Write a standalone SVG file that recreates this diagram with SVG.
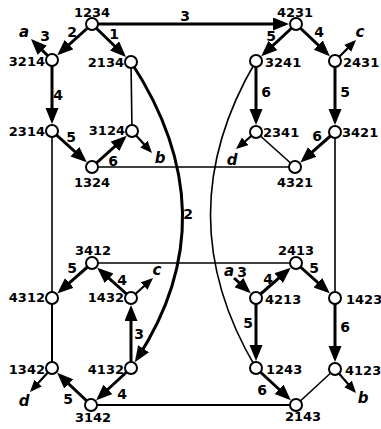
<svg xmlns="http://www.w3.org/2000/svg" width="381" height="429" viewBox="0 0 381 429">
<style>
.thick{stroke:#000;stroke-width:3;fill:none;marker-end:url(#ah)}
.stub{stroke:#000;stroke-width:2.2;fill:none;marker-end:url(#sh)}
.thin{stroke:#000;stroke-width:1.6;fill:none}
.mid{stroke:#000;stroke-width:2;fill:none}
.node circle{fill:#fff;stroke:#000;stroke-width:2}
.nl{font-family:"DejaVu Sans","Liberation Sans",sans-serif;font-weight:bold;font-size:13px;fill:#000}
.el{font-family:"DejaVu Sans","Liberation Sans",sans-serif;font-weight:bold;font-size:14px;fill:#000;text-anchor:middle}
.lt{font-family:"DejaVu Sans","Liberation Sans",sans-serif;font-weight:bold;font-style:italic;font-size:15px;fill:#000;text-anchor:middle}
.s{text-anchor:start}.e{text-anchor:end}.m{text-anchor:middle}
</style>
<defs>
<marker id="ah" markerUnits="userSpaceOnUse" markerWidth="17" markerHeight="14" refX="12" refY="6.5" orient="auto"><path d="M0,0 L16,6.5 L0,13 Z" fill="#000"/></marker>
<marker id="sh" markerUnits="userSpaceOnUse" markerWidth="13" markerHeight="11" refX="9" refY="5" orient="auto"><path d="M0,0 L12,5 L0,10 Z" fill="#000"/></marker>
</defs>
<g id="connectors">
<line class="thin" x1="131" y1="62" x2="132" y2="131"/>
<line class="thin" x1="92" y1="167" x2="295" y2="167"/>
<line class="thin" x1="256" y1="132" x2="295" y2="167"/>
<line class="thin" x1="52" y1="131" x2="52" y2="298"/>
<line class="thin" x1="335" y1="132" x2="335" y2="298"/>
<line class="thin" x1="92" y1="263" x2="296" y2="263"/>
<line class="mid" x1="52" y1="298" x2="52" y2="368"/>
<line class="mid" x1="91" y1="405" x2="296" y2="405"/>
<line class="thin" x1="335" y1="369" x2="296" y2="405"/>
<path class="thin" d="M256,61 Q165,215 256,368"/>
<line class="thick" x1="92" y1="24" x2="60.2" y2="52.6"/>
<line class="thick" x1="92" y1="24" x2="123.1" y2="54.3"/>
<line class="thick" x1="92" y1="24" x2="285" y2="24"/>
<line class="thick" x1="52" y1="60" x2="52" y2="120"/>
<line class="thick" x1="52" y1="131" x2="83.8" y2="159.6"/>
<line class="thick" x1="92" y1="167" x2="123.8" y2="138.4"/>
<line class="thick" x1="296" y1="24" x2="264.2" y2="53.6"/>
<line class="thick" x1="296" y1="24" x2="327" y2="53.4"/>
<line class="thick" x1="256" y1="61" x2="256" y2="121"/>
<line class="thick" x1="335" y1="61" x2="335" y2="121"/>
<line class="thick" x1="335" y1="132" x2="303.3" y2="159.8"/>
<line class="thick" x1="92" y1="263" x2="60.3" y2="290.8"/>
<line class="thick" x1="131" y1="298" x2="100.2" y2="270.3"/>
<line class="thick" x1="131" y1="368" x2="131" y2="309"/>
<line class="thick" x1="131" y1="368" x2="99.1" y2="397.5"/>
<line class="thick" x1="91" y1="405" x2="60" y2="375.6"/>
<line class="thick" x1="256" y1="298" x2="287.7" y2="270.3"/>
<line class="thick" x1="296" y1="263" x2="326.8" y2="290.7"/>
<line class="thick" x1="256" y1="298" x2="256" y2="357"/>
<line class="thick" x1="335" y1="298" x2="335" y2="358"/>
<line class="thick" x1="256" y1="368" x2="287.9" y2="397.5"/>
<path class="thick" d="M131,62 Q231,215 137,358.8"/>
<line class="thick" x1="52" y1="60" x2="33.8" y2="41.8"/>
<line class="thick" x1="234" y1="278" x2="247.8" y2="290.6"/>
<line class="stub" x1="132" y1="131" x2="150" y2="150.8"/>
<line class="stub" x1="335" y1="61" x2="353.9" y2="42.1"/>
<line class="stub" x1="256" y1="132" x2="238.3" y2="147.1"/>
<line class="stub" x1="131" y1="298" x2="150.8" y2="280"/>
<line class="stub" x1="52" y1="368" x2="32" y2="389.8"/>
<line class="stub" x1="335" y1="369" x2="354" y2="390.7"/>
<text class="el" x="185" y="21">3</text>
<text class="el" x="72" y="37">2</text>
<text class="el" x="114" y="39">1</text>
<text class="el" x="45" y="41">3</text>
<text class="el" x="58" y="100">4</text>
<text class="el" x="71" y="142">5</text>
<text class="el" x="113" y="166">6</text>
<text class="el" x="188" y="219">2</text>
<text class="el" x="271" y="41">5</text>
<text class="el" x="319" y="37">4</text>
<text class="el" x="266" y="97">6</text>
<text class="el" x="345" y="97">5</text>
<text class="el" x="317" y="141">6</text>
<text class="el" x="72" y="273">5</text>
<text class="el" x="122" y="285">4</text>
<text class="el" x="139" y="339">3</text>
<text class="el" x="122" y="399">4</text>
<text class="el" x="68" y="404">5</text>
<text class="el" x="242" y="277">3</text>
<text class="el" x="268" y="284">4</text>
<text class="el" x="314" y="273">5</text>
<text class="el" x="248" y="328">5</text>
<text class="el" x="345" y="332">6</text>
<text class="el" x="262" y="395">6</text>
<text class="lt" x="24" y="37">a</text>
<text class="lt" x="160" y="163">b</text>
<text class="lt" x="360" y="37">c</text>
<text class="lt" x="232" y="165">d</text>
<text class="lt" x="157" y="275">c</text>
<text class="lt" x="24" y="406">d</text>
<text class="lt" x="229" y="276">a</text>
<text class="lt" x="363" y="403">b</text>
</g>
<g id="n1234" class="node"><circle cx="92" cy="24" r="6"/><text class="nl m" x="92" y="17">1234</text></g>
<g id="n3214" class="node"><circle cx="52" cy="60" r="6"/><text class="nl e" x="45" y="66">3214</text></g>
<g id="n2134" class="node"><circle cx="131" cy="62" r="6"/><text class="nl e" x="124" y="67">2134</text></g>
<g id="n2314" class="node"><circle cx="52" cy="131" r="6"/><text class="nl e" x="45" y="136">2314</text></g>
<g id="n3124" class="node"><circle cx="132" cy="131" r="6"/><text class="nl e" x="125" y="135">3124</text></g>
<g id="n1324" class="node"><circle cx="92" cy="167" r="6"/><text class="nl m" x="92" y="187">1324</text></g>
<g id="n4231" class="node"><circle cx="296" cy="24" r="6"/><text class="nl m" x="295" y="17">4231</text></g>
<g id="n3241" class="node"><circle cx="256" cy="61" r="6"/><text class="nl s" x="265" y="67">3241</text></g>
<g id="n2431" class="node"><circle cx="335" cy="61" r="6"/><text class="nl s" x="343" y="67">2431</text></g>
<g id="n2341" class="node"><circle cx="256" cy="132" r="6"/><text class="nl s" x="263" y="137">2341</text></g>
<g id="n3421" class="node"><circle cx="335" cy="132" r="6"/><text class="nl s" x="342" y="137">3421</text></g>
<g id="n4321" class="node"><circle cx="295" cy="167" r="6"/><text class="nl m" x="295" y="187">4321</text></g>
<g id="n3412" class="node"><circle cx="92" cy="263" r="6"/><text class="nl m" x="93" y="255">3412</text></g>
<g id="n4312" class="node"><circle cx="52" cy="298" r="6"/><text class="nl e" x="45" y="302">4312</text></g>
<g id="n1432" class="node"><circle cx="131" cy="298" r="6"/><text class="nl e" x="124" y="302">1432</text></g>
<g id="n1342" class="node"><circle cx="52" cy="368" r="6"/><text class="nl e" x="45" y="374">1342</text></g>
<g id="n4132" class="node"><circle cx="131" cy="368" r="6"/><text class="nl e" x="124" y="374">4132</text></g>
<g id="n3142" class="node"><circle cx="91" cy="405" r="6"/><text class="nl m" x="93" y="422">3142</text></g>
<g id="n2413" class="node"><circle cx="296" cy="263" r="6"/><text class="nl m" x="296" y="255">2413</text></g>
<g id="n4213" class="node"><circle cx="256" cy="298" r="6"/><text class="nl s" x="265" y="304">4213</text></g>
<g id="n1423" class="node"><circle cx="335" cy="298" r="6"/><text class="nl s" x="346" y="304">1423</text></g>
<g id="n1243" class="node"><circle cx="256" cy="368" r="6"/><text class="nl s" x="266" y="374">1243</text></g>
<g id="n4123" class="node"><circle cx="335" cy="369" r="6"/><text class="nl s" x="345" y="375">4123</text></g>
<g id="n2143" class="node"><circle cx="296" cy="405" r="6"/><text class="nl m" x="303" y="421">2143</text></g>
</svg>
